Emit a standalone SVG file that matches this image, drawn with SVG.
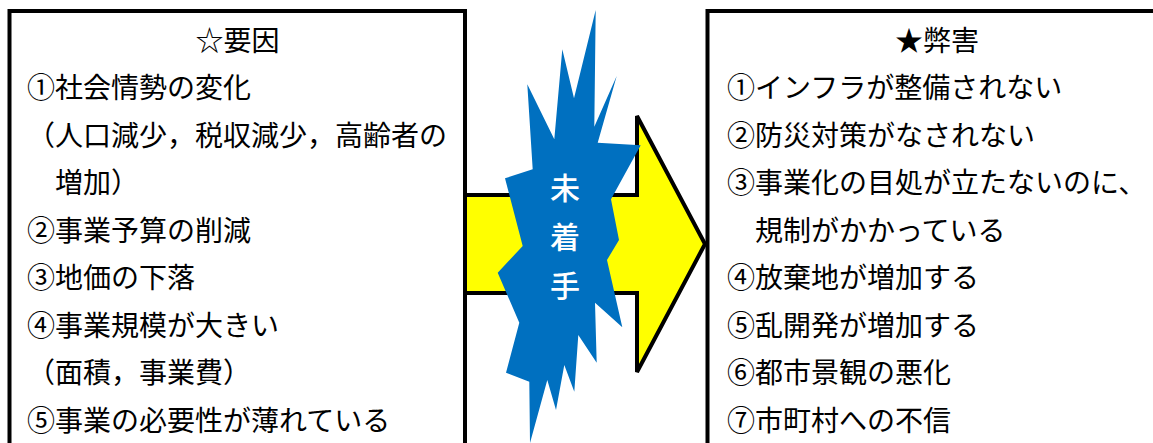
<svg xmlns="http://www.w3.org/2000/svg" width="1153" height="443" viewBox="0 0 1153 443">
<style>
.box{fill:#fff;stroke:#000;stroke-width:4}
.t{font-family:"Liberation Serif","Noto Sans CJK JP",serif;font-size:28px;fill:#000}
.c{text-anchor:middle}
.w{font-family:"Noto Sans CJK JP",sans-serif;font-size:30px;font-weight:500;fill:#fff;text-anchor:middle}
</style>
<rect width="1153" height="443" fill="#fff"/>
<g id="causes">
<rect class="box" x="9.5" y="11" width="455.5" height="450"/>
<text class="t c" x="237.5" y="51">☆要因</text>
<text class="t" x="27" y="98">①社会情勢の変化</text>
<text class="t" x="27" y="145.5">（人口減少，税収減少，高齢者の</text>
<text class="t" x="55" y="193">増加）</text>
<text class="t" x="27" y="240.5">②事業予算の削減</text>
<text class="t" x="27" y="288">③地価の下落</text>
<text class="t" x="27" y="335.5">④事業規模が大きい</text>
<text class="t" x="27" y="383">（面積，事業費）</text>
<text class="t" x="27" y="430.5">⑤事業の必要性が薄れている</text>
</g>
<g id="effects">
<rect class="box" x="707.5" y="11" width="460" height="450"/>
<text class="t c" x="937" y="51">★弊害</text>
<text class="t" x="727" y="98">①インフラが整備されない</text>
<text class="t" x="727" y="145.5">②防災対策がなされない</text>
<text class="t" x="727" y="193">③事業化の目処が立たないのに、</text>
<text class="t" x="755" y="240.5">規制がかかっている</text>
<text class="t" x="727" y="288">④放棄地が増加する</text>
<text class="t" x="727" y="335.5">⑤乱開発が増加する</text>
<text class="t" x="727" y="383">⑥都市景観の悪化</text>
<text class="t" x="727" y="430.5">⑦市町村への不信</text>
</g>
<g id="connectors">
<polygon points="465,195 637,195 637,116 705,244 637,372 637,293 465,293" fill="#ffff00" stroke="#000" stroke-width="4" stroke-linejoin="miter"/>
</g>
<g id="burst">
<polygon fill="#0070c0" points="595.7,10 594.3,126.7 616.7,76 597.7,142.7 640.7,145.3 611,199.3 619,240 607,260 622.3,327.3 595,302.7 596.7,362.7 578.3,335 574.3,391.7 564.3,365 556,410 547.3,380 530,443 529.3,381.7 506,372.7 519.3,322.7 497.7,272.7 522.7,246 505,178.3 532.7,169.3 527.3,84.3 554.3,139.3 562.3,49.3 574,98.3"/>
<text class="w" x="565" y="199">未</text>
<text class="w" x="565" y="248">着</text>
<text class="w" x="565" y="297">手</text>
</g>
</svg>
